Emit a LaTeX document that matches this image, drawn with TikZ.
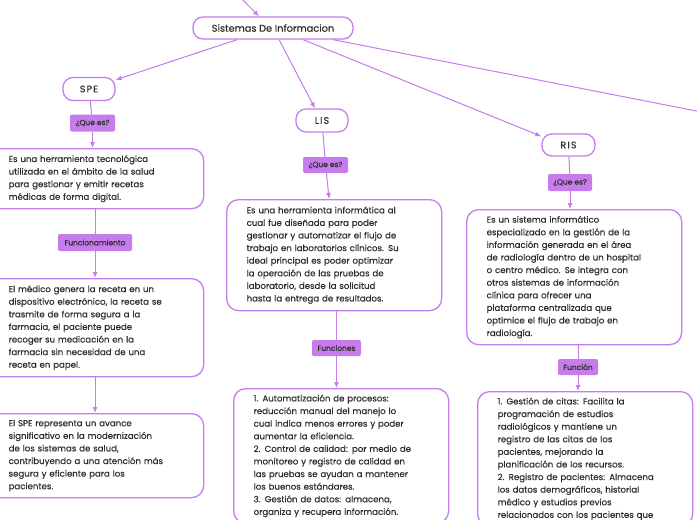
\documentclass[tikz,border=0pt]{standalone}
\usepackage{fontspec}
\setmainfont{Poppins}[FakeBold=0.3]
\newfontfamily\spaced{Poppins}[FakeBold=0.3,LetterSpace=12]
\usetikzlibrary{arrows.meta}
\definecolor{vio}{RGB}{198,124,234}
\definecolor{txt}{RGB}{45,45,45}
\begin{document}
\begin{tikzpicture}[x=1pt,y=-1pt,
  title/.style={draw=vio, line width=1.3pt, rounded corners=10pt, fill=white,
    minimum height=22pt, inner sep=0pt, font=\fontsize{9.8}{11}\selectfont, text=txt},
  abbr/.style={title, font=\spaced\fontsize{9.5}{11}\selectfont},
  lab/.style={fill=vio, rounded corners=2pt, minimum height=17pt, inner sep=0pt,
    font=\fontsize{7.5}{8}\selectfont, text=txt},
  big/.style={draw=vio, line width=1.3pt, rounded corners=12pt, fill=white,
    anchor=north west, text width=175pt, inner xsep=20pt, inner ysep=6pt,
    align=left, font=\fontsize{8.6}{12.6}\selectfont, text=txt},
  conn/.style={draw=vio, line width=1pt},
  arr/.style={conn, -{Latex[length=6pt,width=5pt]}}]
\useasboundingbox (0,0) rectangle (697,520);
\fill[white] (0,0) rectangle (697,520);
\clip (0,0) rectangle (697,520);

% title nodes
\node[title, minimum width=160pt] (root) at (273,28) {Sistemas De Informacion};
\node[abbr, minimum width=52pt, minimum height=23pt] (spe) at (89,89) {SPE};
\node[abbr, minimum width=52pt, minimum height=23pt] (lis) at (322,120.5) {LIS};
\node[abbr, minimum width=53pt] (ris) at (568.5,145) {RIS};

% labels
\node[lab, minimum width=45pt] (q1) at (92.5,123) {¿Que es?};
\node[lab, minimum width=74pt] (fu1) at (95,242.5) {Funcionamiento};
\node[lab, minimum width=45pt, minimum height=16pt] (q2) at (325.5,165) {¿Que es?};
\node[lab, minimum width=49pt, minimum height=16pt] (fn2) at (336.5,348) {Funciones};
\node[lab, minimum width=44pt] (q3) at (570,182.5) {¿Que es?};
\node[lab, minimum width=40pt, minimum height=16pt] (fn3) at (578,367) {Función};

% big boxes
\node[big, minimum height=60pt] (d1) at (-12,148) {%
\mbox{Es una herramienta tecnológica}\\
\mbox{utilizada en el ámbito de la salud}\\
\mbox{para gestionar y emitir recetas}\\
\mbox{médicas de forma digital.}};
\node[big, minimum height=98pt] (b2) at (-12,278) {%
\mbox{El médico genera la receta en un}\\
\mbox{dispositivo electrónico, la receta se}\\
\mbox{trasmite de forma segura a la}\\
\mbox{farmacia, el paciente puede}\\
\mbox{recoger su medicación en la}\\
\mbox{farmacia sin necesidad de una}\\
\mbox{receta en papel.}};
\node[big, minimum height=84pt] (b3) at (-12,413) {%
\mbox{El SPE representa un avance}\\
\mbox{significativo en la modernización}\\
\mbox{de los sistemas de salud,}\\
\mbox{contribuyendo a una atención más}\\
\mbox{segura y eficiente para los}\\
\mbox{pacientes.}};
\node[big, minimum height=111pt] (d2) at (226,199) {%
\mbox{Es una herramienta informática al}\\
\mbox{cual fue diseñada para poder}\\
\mbox{gestionar y automatizar el flujo de}\\
\mbox{trabajo en laboratorios clínicos. Su}\\
\mbox{ideal principal es poder optimizar}\\
\mbox{la operación de las pruebas de}\\
\mbox{laboratorio, desde la solicitud}\\
\mbox{hasta la entrega de resultados.}};
\node[big] (f2) at (233,388) {%
\mbox{1. Automatización de procesos:}\\
\mbox{reducción manual del manejo lo}\\
\mbox{cual indica menos errores y poder}\\
\mbox{aumentar la eficiencia.}\\
\mbox{2. Control de calidad: por medio de}\\
\mbox{monitoreo y registro de calidad en}\\
\mbox{las pruebas se ayudan a mantener}\\
\mbox{los buenos estándares.}\\
\mbox{3. Gestión de datos: almacena,}\\
\mbox{organiza y recupera información.}};
\node[big, minimum height=135pt] (d3) at (466,209) {%
\mbox{Es un sistema informático}\\
\mbox{especializado en la gestión de la}\\
\mbox{información generada en el área}\\
\mbox{de radiología dentro de un hospital}\\
\mbox{o centro médico. Se integra con}\\
\mbox{otros sistemas de información}\\
\mbox{clínica para ofrecer una}\\
\mbox{plataforma centralizada que}\\
\mbox{optimice el flujo de trabajo en}\\
\mbox{radiología.}};
\node[big] (f3) at (477,391) {%
\mbox{1. Gestión de citas: Facilita la}\\
\mbox{programación de estudios}\\
\mbox{radiológicos y mantiene un}\\
\mbox{registro de las citas de los}\\
\mbox{pacientes, mejorando la}\\
\mbox{planificación de los recursos.}\\
\mbox{2. Registro de pacientes: Almacena}\\
\mbox{los datos demográficos, historial}\\
\mbox{médico y estudios previos}\\
\mbox{relacionados con los pacientes que}};

% free ends
\coordinate (offt) at (230,-13);
\coordinate (offr) at (760,123.5);

% connectors from root
\draw[arr] (offt) -- ([xshift=-14pt]root.north);
\draw[arr] ([xshift=-36pt]root.south) -- ([yshift=-3pt]spe.north east);
\draw[arr] ([xshift=6pt]root.south) -- ([xshift=-7pt]lis.north);
\draw[arr] ([xshift=30pt]root.south) -- ([yshift=-3pt]ris.north west);
\draw[conn] ([xshift=60pt]root.south) -- (offr);

% SPE chain
\draw[conn] (spe) -- (q1);
\draw[arr] (q1) -- (q1 |- d1.north);
\draw[conn] (fu1 |- d1.south) -- (fu1);
\draw[arr] (fu1) -- (fu1 |- b2.north);
\draw[arr] (fu1 |- b2.south) -- (fu1 |- b3.north);

% LIS chain
\draw[conn] (lis) -- (q2);
\draw[arr] (q2) -- ([xshift=-5pt]d2.north);
\draw[conn] (fn2 |- d2.south) -- (fn2);
\draw[arr] (fn2) -- (fn2 |- f2.north);

% RIS chain
\draw[conn] (ris) -- (q3);
\draw[arr] (q3) -- (q3 |- d3.north);
\draw[conn] (fn3 |- d3.south) -- (fn3);
\draw[arr] (fn3) -- (fn3 |- f3.north);
\end{tikzpicture}
\end{document}
